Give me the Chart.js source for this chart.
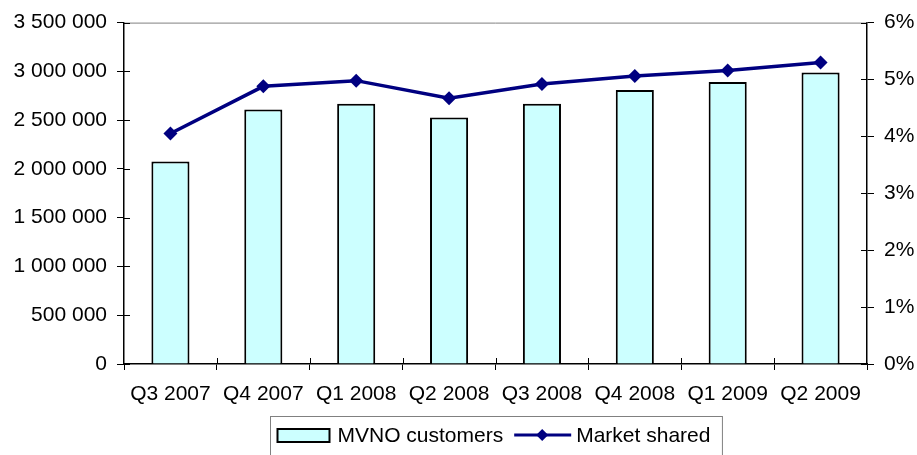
<!DOCTYPE html>
<html>
<head>
<meta charset="utf-8">
<script src="https://cdn.jsdelivr.net/npm/chart.js@4"></script>
<style>
  html, body { margin: 0; padding: 0; background: #fff; }
  #wrap { width: 917px; height: 455px; }
</style>
</head>
<body>
<div id="wrap"><canvas id="myChart" width="917" height="455"></canvas></div>
<script>
const quarters = ["Q3 2007", "Q4 2007", "Q1 2008", "Q2 2008", "Q3 2008", "Q4 2008", "Q1 2009", "Q2 2009"];
const mvnoCustomers = [2076000, 2608000, 2669000, 2527000, 2669000, 2808000, 2890000, 2988000];
const marketShare = [4.05, 4.88, 4.98, 4.67, 4.92, 5.06, 5.16, 5.30];

const FONT = "'Liberation Sans', Arial, sans-serif";
const BAR_FILL = "#ccffff";
const LINE_COLOR = "#000080";

function fmtThousands(v) {
  return String(v).replace(/\B(?=(\d{3})+(?!\d))/g, " ");
}

// draws the top border, inward tick halves and the boxed legend
const extras = {
  id: "extras",
  afterDraw(chart) {
    const c = chart.ctx;
    const a = chart.chartArea;
    c.save();
    c.strokeStyle = "#808080";
    c.lineWidth = 1;
    c.beginPath();
    c.moveTo(a.left, a.top + 0.5);
    c.lineTo(a.right, a.top + 0.5);
    c.stroke();

    c.strokeStyle = "#000";
    c.beginPath();
    chart.scales.y.ticks.forEach((t) => {
      const py = Math.round(chart.scales.y.getPixelForValue(t.value)) + 0.5;
      c.moveTo(a.left, py);
      c.lineTo(a.left + 6, py);
    });
    chart.scales.y1.ticks.forEach((t) => {
      const py = Math.round(chart.scales.y1.getPixelForValue(t.value)) + 0.5;
      c.moveTo(a.right - 6, py);
      c.lineTo(a.right, py);
    });
    const xs = chart.scales.x;
    for (let i = 1; i < quarters.length; i++) {
      const px = Math.round((xs.getPixelForValue(i - 1) + xs.getPixelForValue(i)) / 2) + 0.5;
      c.moveTo(px, a.bottom - 6);
      c.lineTo(px, a.bottom);
    }
    c.stroke();

    // legend
    const barSet = chart.data.datasets.find((d) => d.type === "bar");
    const lineSet = chart.data.datasets.find((d) => d.type === "line");
    c.font = "21px " + FONT;
    const w1 = c.measureText(barSet.label).width;
    const w2 = c.measureText(lineSet.label).width;
    const boxW = 7 + 52 + 8 + w1 + 11 + 57 + 5 + w2 + 12;
    const cx = (a.left + a.right) / 2;
    const bx = Math.round(cx - boxW / 2) + 0.5;
    const by = 416.5;
    c.strokeStyle = "#808080";
    c.lineWidth = 1;
    c.strokeRect(bx, by, boxW, 60);

    const midY = 435;
    let x = bx + 7;
    c.fillStyle = BAR_FILL;
    c.fillRect(x, 429, 52, 13);
    c.strokeStyle = "#000";
    c.lineWidth = 2;
    c.strokeRect(x, 429, 52, 13);
    x += 52 + 8;
    c.fillStyle = "#000";
    c.textBaseline = "middle";
    c.textAlign = "left";
    c.fillText(barSet.label, x, midY + 1);
    x += w1 + 11;
    c.strokeStyle = LINE_COLOR;
    c.lineWidth = 3;
    c.beginPath();
    c.moveTo(x, midY);
    c.lineTo(x + 57, midY);
    c.stroke();
    c.fillStyle = LINE_COLOR;
    c.beginPath();
    c.moveTo(x + 28, midY - 6);
    c.lineTo(x + 34, midY);
    c.lineTo(x + 28, midY + 6);
    c.lineTo(x + 22, midY);
    c.closePath();
    c.fill();
    x += 57 + 5;
    c.fillStyle = "#000";
    c.fillText(lineSet.label, x, midY + 1);
    c.restore();
  },
};

const ctx = document.getElementById("myChart");
new Chart(ctx, {
  data: {
    labels: quarters,
    datasets: [
      {
        type: "line",
        label: "Market shared",
        data: marketShare,
        yAxisID: "y1",
        borderColor: LINE_COLOR,
        backgroundColor: LINE_COLOR,
        borderWidth: 3.5,
        pointStyle: "rectRot",
        pointRadius: 7,
        pointBorderWidth: 0,
        tension: 0,
        order: 0,
      },
      {
        type: "bar",
        label: "MVNO customers",
        data: mvnoCustomers,
        yAxisID: "y",
        backgroundColor: BAR_FILL,
        borderColor: "#000",
        borderWidth: 2,
        borderSkipped: "bottom",
        categoryPercentage: 1,
        barPercentage: 0.41,
        order: 1,
      },
    ],
  },
  options: {
    responsive: false,
    animation: false,
    events: [],
    layout: { padding: { top: 18, left: 0, right: 0, bottom: 0 } },
    plugins: {
      legend: { display: false },
      tooltip: { enabled: false },
    },
    scales: {
      x: {
        offset: true,
        afterFit: (s) => { s.height = 91; },
        grid: {
          offset: true,
          drawOnChartArea: false,
          tickLength: 6,
          color: "#000",
        },
        border: { color: "#000", width: 1.5 },
        ticks: {
          color: "#000",
          font: { family: FONT, size: 21 },
          padding: 12,
          maxRotation: 0,
        },
      },
      y: {
        position: "left",
        min: 0,
        max: 3500000,
        afterFit: (s) => { s.width = 124; },
        grid: { drawOnChartArea: false, tickLength: 7, color: "#000" },
        border: { color: "#000", width: 1.5 },
        ticks: {
          stepSize: 500000,
          color: "#000",
          padding: 10,
          font: { family: FONT, size: 21 },
          callback: (v) => fmtThousands(v),
        },
      },
      y1: {
        position: "right",
        min: 0,
        max: 6,
        afterFit: (s) => { s.width = 50; },
        grid: { drawOnChartArea: false, tickLength: 7, color: "#000" },
        border: { color: "#000", width: 1.5 },
        ticks: {
          stepSize: 1,
          color: "#000",
          padding: 10,
          font: { family: FONT, size: 21 },
          callback: (v) => v + "%",
        },
      },
    },
  },
  plugins: [extras],
});
</script>
</body>
</html>
